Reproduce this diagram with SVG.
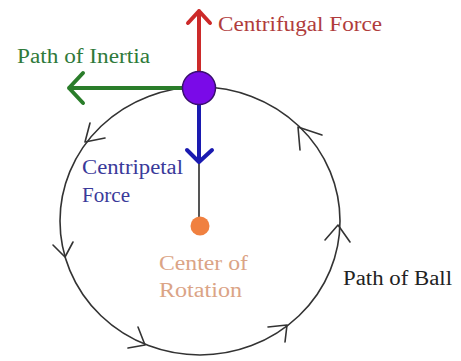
<svg xmlns="http://www.w3.org/2000/svg" width="461" height="361" viewBox="0 0 461 361">
<style>
text{font-family:"Liberation Serif","DejaVu Serif",serif;font-size:20px}
.path{fill:none;stroke:#333;stroke-width:1.6;stroke-linecap:round;stroke-linejoin:round}
.chev{fill:none;stroke:#333;stroke-width:1.6;stroke-linecap:round;stroke-linejoin:round}
</style>
<rect width="461" height="361" fill="#fff"/>
<g id="path-of-ball">
<ellipse class="path" cx="200" cy="221" rx="140" ry="134"/>
<polyline class="chev" points="90,123 85,142 105,138"/>
<polyline class="chev" points="53,245 65,257 73,242"/>
<polyline class="chev" points="138,327 145,345 128,348"/>
<polyline class="chev" points="268,327 287,325 285,342"/>
<polyline class="chev" points="325,240 338,225 350,242"/>
<polyline class="chev" points="300,150 298,127 322,135"/>
<text x="343" y="285" fill="#222" textLength="109" lengthAdjust="spacingAndGlyphs">Path of Ball</text>
</g>
<g id="connectors">
<line x1="199" y1="104" x2="199" y2="217" stroke="#555" stroke-width="2"/>
<g fill="none" stroke-linecap="round" stroke-linejoin="round">
<path d="M199 72 V11 M188 23 L199 11 L210 23" stroke="#cc2a2a" stroke-width="4"/>
<path d="M185 88 H69 M83 73 L69 88 L83 103" stroke="#2a7d2a" stroke-width="4"/>
<path d="M199 104 V161 M187 150 L199 162 L212 150" stroke="#1a1ab0" stroke-width="4"/>
</g>
</g>
<g id="ball">
<circle cx="199" cy="88" r="16.5" fill="#7a0ae8" stroke="#3a1070" stroke-width="1.5"/>
</g>
<g id="center">
<circle cx="200" cy="226" r="9.5" fill="#f08040"/>
<text x="159" y="270" fill="#dba486" textLength="89" lengthAdjust="spacingAndGlyphs">Center of</text>
<text x="159" y="297" fill="#dba486" textLength="83" lengthAdjust="spacingAndGlyphs">Rotation</text>
</g>
<g id="centrifugal">
<text x="218" y="31" fill="#b03c3c" textLength="164" lengthAdjust="spacingAndGlyphs">Centrifugal Force</text>
</g>
<g id="inertia">
<text x="17" y="63" fill="#2f7a3a" textLength="133" lengthAdjust="spacingAndGlyphs">Path of Inertia</text>
</g>
<g id="centripetal">
<text x="82" y="174" fill="#3a3a9a" textLength="101" lengthAdjust="spacingAndGlyphs">Centripetal</text>
<text x="82" y="202" fill="#3a3a9a" textLength="48" lengthAdjust="spacingAndGlyphs">Force</text>
</g>
</svg>
